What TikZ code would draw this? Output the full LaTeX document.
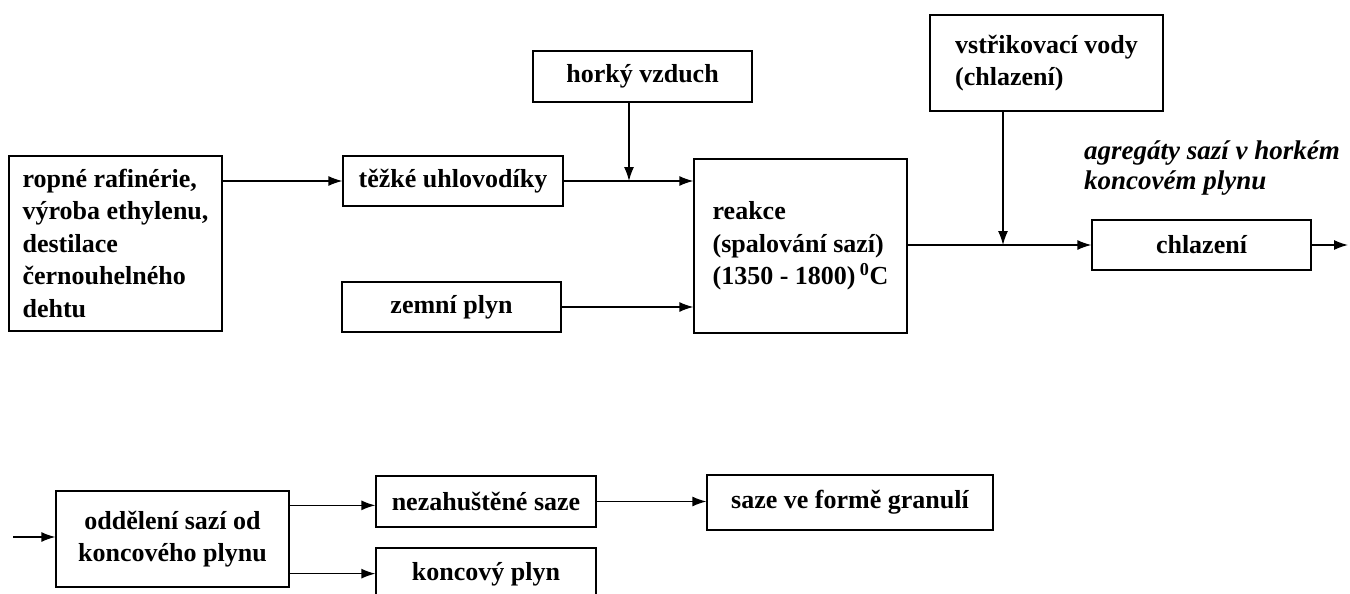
\documentclass[tikz,border=0pt]{standalone}
\usepackage{fontspec}
\setmainfont{Liberation Serif}
\usetikzlibrary{arrows,arrows.meta,positioning,calc}

\begin{document}
\begin{tikzpicture}[x=1pt, y=-1pt, >=latex]
    \tikzstyle{blok} = [rectangle, draw, line width=1.3pt, inner sep=0pt, align=center, font=\fontsize{26}{32.5}\selectfont\bfseries]
    \tikzstyle{line} = [draw, -{Latex[length=14pt,width=10pt]}, line width=1.3pt]

    \useasboundingbox (0,0) rectangle (1350,594);

    % horni rada
    \node [blok, align=left, minimum width=213pt, minimum height=175pt] (zdroj) at (115.5,243.5) {ropné rafinérie,\\výroba ethylenu,\\destilace\\černouhelného\\dehtu};
    \node [blok, minimum width=220pt, minimum height=50pt] (tezke) at (453,181) {těžké uhlovodíky};
    \node [blok, minimum width=219pt, minimum height=50pt] (zemni) at (451.5,307) {zemní plyn};
    \node [blok, minimum width=219pt, minimum height=51pt] (vzduch) at (642.5,76.5) {horký vzduch};
    \node [blok, align=left, minimum width=213pt, minimum height=174pt] (reakce) at (800.5,246) {reakce\\(spalování sazí)\\(1350 - 1800)\,\textsuperscript{0}C};
    \node [blok, align=left, minimum width=233pt, minimum height=96pt] (voda) at (1046.5,63) {vstřikovací vody\\(chlazení)};
    \node [blok, minimum width=219pt, minimum height=50pt] (chlazeni) at (1201.5,245) {chlazení};
    \node [align=left, anchor=west, inner sep=0pt, font=\fontsize{27}{30}\selectfont\bfseries\itshape] (agregaty) at (1084,168) {agregáty sazí v horkém\\koncovém plynu};

    % dolni rada
    \node [blok, minimum width=233pt, minimum height=96pt] (oddeleni) at (172.5,539) {oddělení sazí od\\koncového plynu};
    \node [blok, minimum width=220pt, minimum height=51pt] (nezahust) at (486,501.5) {nezahuštěné saze};
    \node [blok, minimum width=220pt, minimum height=52pt] (koncovy) at (486,574) {koncový plyn};
    \node [blok, minimum width=286pt, minimum height=55pt] (granule) at (850,502.5) {saze ve formě granulí};

    \coordinate (spoj1) at (629,181);
    \coordinate (spoj2) at (1003,245);
    \coordinate (vystup) at (1348,245);
    \coordinate (vstup) at (13,537);
    \coordinate (odd1) at ($(oddeleni.north east)+(0,15)$);
    \coordinate (odd2) at ($(oddeleni.south east)+(0,-14)$);

    \path [line] (zdroj.east |- tezke.west) -- (tezke.west);
    \path [line] (tezke.east) -- (tezke.east -| reakce.west);
    \path [line] (spoj1 |- vzduch.south) -- (spoj1);
    \path [line] (zemni.east) -- (zemni.east -| reakce.west);
    \path [line] (reakce.east |- chlazeni.west) -- (chlazeni.west);
    \path [line] (spoj2 |- voda.south) -- (spoj2);
    \path [line] (chlazeni.east) -- (vystup);

    \path [line] (vstup) -- (vstup -| oddeleni.west);
    \path [line] (odd1) -- (odd1 -| nezahust.west);
    \path [line] (odd2) -- (odd2 -| koncovy.west);
    \path [line] (nezahust.east) -- (nezahust.east -| granule.west);
\end{tikzpicture}
\end{document}
